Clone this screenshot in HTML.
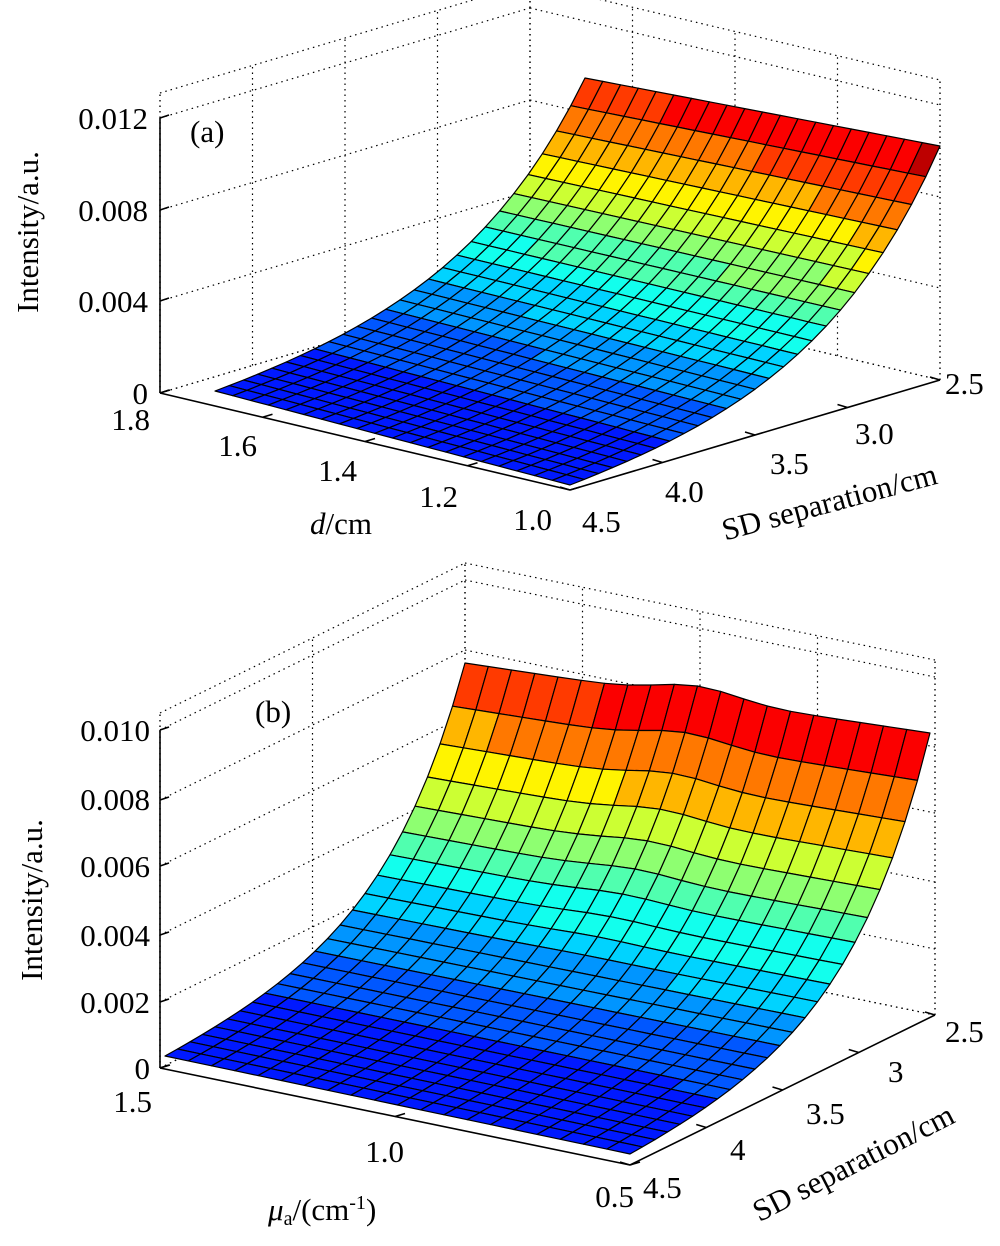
<!DOCTYPE html>
<html><head><meta charset="utf-8">
<style>
html,body{margin:0;padding:0;background:#fff;}
svg{display:block;}
text{font-family:"Liberation Serif",serif;fill:#000;}
</style></head>
<body>
<svg id="s" width="1000" height="1246" viewBox="0 0 1000 1246" xmlns="http://www.w3.org/2000/svg">
<g id="g"></g>
<g font-size="31">
<text x="148" y="129" text-anchor="end">0.012</text>
<text x="148" y="221" text-anchor="end">0.008</text>
<text x="148" y="312" text-anchor="end">0.004</text>
<text x="148" y="404" text-anchor="end">0</text>
<text x="190" y="142">(a)</text>
<text transform="translate(38,232) rotate(-90)" text-anchor="middle">Intensity/a.u.</text>
<text x="150" y="430" text-anchor="end">1.8</text>
<text x="257" y="456" text-anchor="end">1.6</text>
<text x="357" y="481" text-anchor="end">1.4</text>
<text x="458" y="507" text-anchor="end">1.2</text>
<text x="552" y="530" text-anchor="end">1.0</text>
<text x="310" y="534"><tspan font-style="italic">d</tspan>/cm</text>
<text x="582" y="532">4.5</text>
<text x="665" y="502">4.0</text>
<text x="770" y="474">3.5</text>
<text x="855" y="444">3.0</text>
<text x="945" y="394">2.5</text>
<text transform="translate(832,512) rotate(-15)" text-anchor="middle">SD separation/cm</text>
</g>
<g font-size="31">
<text x="150" y="741" text-anchor="end">0.010</text>
<text x="150" y="810" text-anchor="end">0.008</text>
<text x="150" y="877" text-anchor="end">0.006</text>
<text x="150" y="946" text-anchor="end">0.004</text>
<text x="150" y="1013" text-anchor="end">0.002</text>
<text x="150" y="1079" text-anchor="end">0</text>
<text x="255" y="722">(b)</text>
<text transform="translate(42,900) rotate(-90)" text-anchor="middle">Intensity/a.u.</text>
<text x="152" y="1112" text-anchor="end">1.5</text>
<text x="404" y="1162" text-anchor="end">1.0</text>
<text x="634" y="1207" text-anchor="end">0.5</text>
<text x="268" y="1220"><tspan font-style="italic">μ</tspan><tspan font-size="20" dy="5">a</tspan><tspan dy="-5">/(cm</tspan><tspan font-size="20" dy="-11">-1</tspan><tspan dy="11">)</tspan></text>
<text x="643" y="1198">4.5</text>
<text x="730" y="1160">4</text>
<text x="806" y="1124">3.5</text>
<text x="888" y="1082">3</text>
<text x="945" y="1042">2.5</text>
<text transform="translate(858,1172) rotate(-27)" text-anchor="middle">SD separation/cm</text>
</g>
</svg>
<script>
function jet(v){
  v=Math.max(0,Math.min(1,v));
  function c(x){return Math.max(0,Math.min(1,x));}
  var r=c(Math.min(4*v-1.5,-4*v+4.5)),g=c(Math.min(4*v-0.5,-4*v+3.5)),b=c(Math.min(4*v+0.5,-4*v+2.5));
  return 'rgb('+Math.round(r*255)+','+Math.round(g*255)+','+Math.round(b*255)+')';
}
var out='';
function line(a,b,dash,w){out+='<line x1="'+a[0]+'" y1="'+a[1]+'" x2="'+b[0]+'" y2="'+b[1]+'" stroke="#000" stroke-width="'+(w||1.2)+'"'+(dash?' stroke-dasharray="1.5,4"':'')+'/>';}
function panel(o){
  var L=o.L,F=o.F,R=o.R,B=[L[0]+R[0]-F[0],L[1]+R[1]-F[1]],H=o.H;
  function up(p,h){return [p[0],p[1]-h];}
  o.zt.forEach(function(h){line(up(L,h),up(B,h),1);line(up(B,h),up(R,h),1);});
  line(up(L,H),up(B,H),1);line(up(B,H),up(R,H),1);
  line(L,up(L,H),1);line(B,up(B,H),1);line(R,up(R,H),1);
  line(L,B,1);line(B,R,1);
  o.dt.forEach(function(t){var p=[L[0]+(B[0]-L[0])*t,L[1]+(B[1]-L[1])*t];line(p,up(p,H),1);});
  o.st.forEach(function(t){var p=[B[0]+(R[0]-B[0])*t,B[1]+(R[1]-B[1])*t];line(p,up(p,H),1);});
  var S=o.S,nT=o.nT,nS=o.nS,P=[];
  for(var i=0;i<=nT;i++){P[i]=[];for(var j=0;j<=nS;j++){
    var t=i/nT,s=j/nS;
    var bx=S.F[0]+t*(S.L[0]-S.F[0])+s*(S.R[0]-S.F[0]);
    var by=S.F[1]+t*(S.L[1]-S.F[1])+s*(S.R[1]-S.F[1]);
    var f=(Math.exp(o.k*s)-1)/(Math.exp(o.k)-1);
    var h=o.h0+f*(o.hF*(1-t)+o.hB*t)+(o.bump?o.bump(t,s):0);
    P[i][j]=[bx,by-h,h];
  }}
  var polys=[];
  for(var i=0;i<nT;i++)for(var j=0;j<nS;j++){
    var q=[P[i][j],P[i+1][j],P[i+1][j+1],P[i][j+1]];
    var hv=(q[0][2]+q[1][2]+q[2][2]+q[3][2])/4;
    var lv=Math.floor(hv/o.hmax*o.N)/o.N;
    polys.push({d:i+j,q:q,c:jet(0.15+0.85*lv)});
  }
  polys.sort(function(a,b){return b.d-a.d;});
  polys.forEach(function(p){out+='<polygon points="'+p.q.map(function(v){return v[0].toFixed(1)+','+v[1].toFixed(1);}).join(' ')+'" fill="'+p.c+'" stroke="#000" stroke-width="1.2" stroke-linejoin="round"/>';});
  line(L,F,0,1.6);line(F,R,0,1.6);line(L,up(L,o.zt[o.zt.length-1]),0,1.6);
  o.zt.forEach(function(h){line(up(L,h),[L[0]+9,L[1]-h-3],0,1.6);});
  o.dt.forEach(function(t){var p=[L[0]+(F[0]-L[0])*t,L[1]+(F[1]-L[1])*t];line(p,[p[0]+10,p[1]-3],0,1.6);});
  o.st.forEach(function(t){var p=[F[0]+(R[0]-F[0])*t,F[1]+(R[1]-F[1])*t];line(p,[p[0]-10,p[1]-3],0,1.6);});
}
panel({L:[160,393],F:[570,490],R:[940,380],H:300,zt:[0,92,183,275],dt:[0,0.25,0.5,0.75,1],st:[0,0.25,0.5,0.75,1],
  S:{F:[570,487],L:[215,393],R:[940,380]},nT:20,nS:26,k:3.0,h0:2,hF:232,hB:206,hmax:236,N:14});
panel({L:[160,1068],F:[630,1165],R:[935,1015],H:355,zt:[0,66,133,202,268,338],dt:[0,0.5,1],st:[0,0.25,0.5,0.75,1],
  S:{F:[630,1160],L:[165,1062],R:[930,1015]},nT:20,nS:24,k:3.8,h0:6,hF:276,hB:248,hmax:284,N:14,
  bump:function(t,s){return s>0.6?12*Math.exp(-Math.pow((t-0.5)/0.12,2))*(s-0.6)/0.4:0;}});
document.getElementById('g').innerHTML=out;
</script>
</body></html>
